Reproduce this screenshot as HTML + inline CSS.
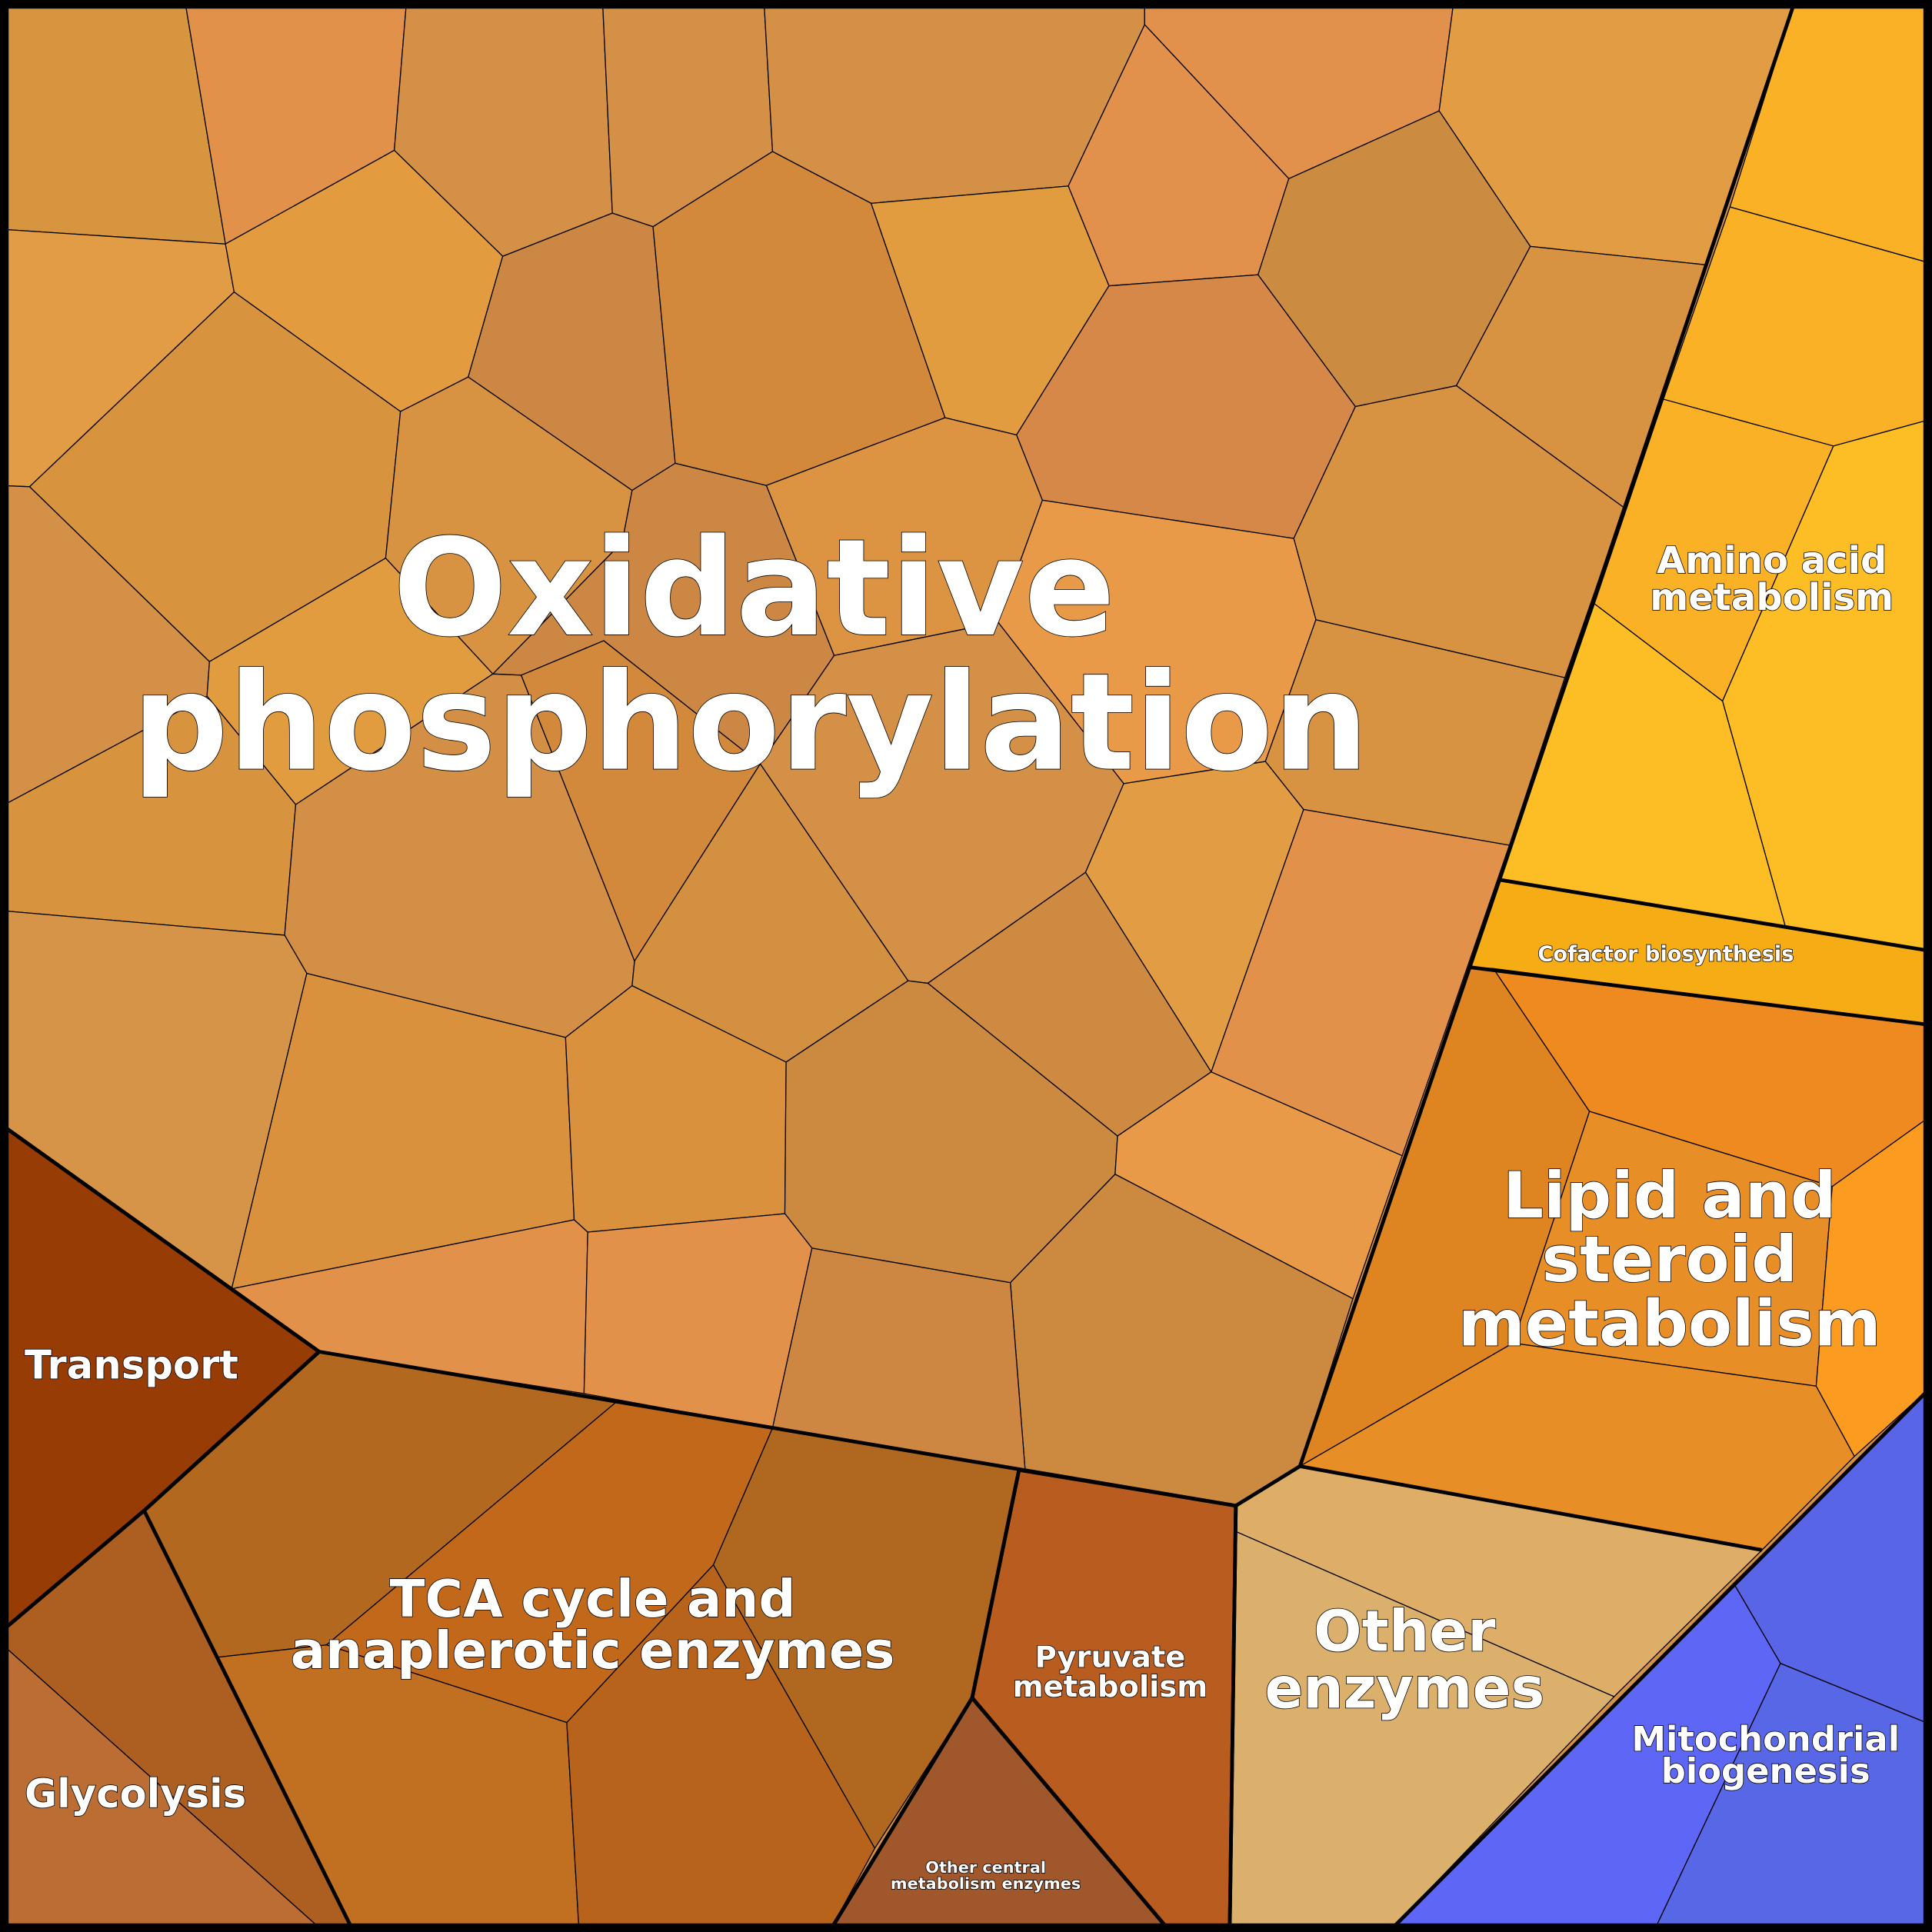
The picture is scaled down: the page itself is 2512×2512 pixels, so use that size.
<!DOCTYPE html>
<html><head><meta charset="utf-8"><style>
html,body{margin:0;padding:0;background:#000;}
svg{display:block;}
text{font-family:"DejaVu Sans","Liberation Sans",sans-serif;font-weight:bold;fill:#fff;stroke:#000;stroke-width:1;paint-order:stroke;text-anchor:middle;}
</style></head><body>
<svg width="2512" height="2512" viewBox="0 0 1568 1568" xmlns="http://www.w3.org/2000/svg">
<rect x="0" y="0" width="1568" height="1568" fill="#d39046"/>
<g stroke="#000" stroke-width="0.8" stroke-linejoin="round">
<polygon fill="#d8953f" points="0,0 150,0 183,198 0,186"/>
<polygon fill="#e2914a" points="150,0 330,0 320,122 183,198"/>
<polygon fill="#d39046" points="330,0 489,0 497,173 408,208 320,122"/>
<polygon fill="#d39046" points="489,0 620,0 627,123 530,184 497,173"/>
<polygon fill="#d39046" points="620,0 929,0 929,20 867,151 707,165 627,123"/>
<polygon fill="#e2914d" points="929,0 1180,0 1168,90 1046,145 929,20"/>
<polygon fill="#e2914d" points="929,20 1046,145 1021,223 900,232 867,151"/>
<polygon fill="#e29c44" points="1180,0 1457,0 1385,215 1242,200 1168,90"/>
<polygon fill="#cb8b40" points="1168,90 1242,200 1182,313 1100,330 1021,223 1046,145"/>
<polygon fill="#d89342" points="1242,200 1385,215 1318,412 1182,313"/>
<polygon fill="#e29c45" points="0,186 183,198 190,237 24,395 0,394"/>
<polygon fill="#e29c3f" points="183,198 320,122 408,208 380,306 325,334 190,237"/>
<polygon fill="#cd8745" points="408,208 497,173 530,184 548,376 513,398 380,306"/>
<polygon fill="#d2893b" points="530,184 627,123 707,165 767,339 622,394 548,376"/>
<polygon fill="#e29c40" points="707,165 867,151 900,232 825,353 767,339"/>
<polygon fill="#d58848" points="900,232 1021,223 1100,330 1050,437 846,406 825,353"/>
<polygon fill="#d89342" points="1100,330 1182,313 1318,412 1270,550 1068,503 1050,437"/>
<polygon fill="#d8933f" points="24,395 190,237 325,334 313,453 170,537"/>
<polygon fill="#d39046" points="0,394 24,395 170,537 168,565 0,655"/>
<polygon fill="#d89342" points="325,334 380,306 513,398 505,440 400,547 313,453"/>
<polygon fill="#cd8745" points="513,398 548,376 622,394 677,532 617,620 490,520 423,548 400,547 505,440"/>
<polygon fill="#dc9442" points="622,394 767,339 825,353 846,406 810,505 677,532"/>
<polygon fill="#e89a48" points="846,406 1050,437 1068,503 1027,618 912,636 810,505"/>
<polygon fill="#d89342" points="1068,503 1270,550 1225,686 1058,657 1027,618"/>
<polygon fill="#e29c40" points="170,537 313,453 400,547 240,653 168,565"/>
<polygon fill="#d8933f" points="0,655 168,565 240,653 231,759 0,739"/>
<polygon fill="#d38f45" points="240,653 400,547 423,548 515,780 513,800 459,842 249,790 231,759"/>
<polygon fill="#d2893b" points="423,548 490,520 617,620 515,780"/>
<polygon fill="#d39046" points="617,620 677,532 810,505 912,636 881,708 753,798 737,796"/>
<polygon fill="#d39041" points="515,780 617,620 737,796 638,862 513,800"/>
<polygon fill="#e29c43" points="912,636 1027,618 1058,657 983,870 881,708"/>
<polygon fill="#e2914b" points="1058,657 1225,686 1138,938 983,870"/>
<polygon fill="#ce8a40" points="753,798 881,708 983,870 907,922"/>
<polygon fill="#d69448" points="0,739 231,759 249,790 188,1046 0,912"/>
<polygon fill="#d9913e" points="249,790 459,842 466,990 188,1046"/>
<polygon fill="#d9913e" points="459,842 513,800 638,862 637,985 477,1000 466,990"/>
<polygon fill="#cc8a40" points="638,862 737,796 753,798 907,922 905,953 820,1041 659,1013 637,985"/>
<polygon fill="#e89a48" points="907,922 983,870 1138,938 1098,1054 905,953"/>
<polygon fill="#cc8a40" points="905,953 1098,1054 1055,1190 1003,1222 832,1193 820,1041"/>
<polygon fill="#e2914b" points="188,1046 466,990 477,1000 474,1131 259,1097"/>
<polygon fill="#e2914b" points="477,1000 637,985 659,1013 627,1159 474,1131"/>
<polygon fill="#cd8742" points="659,1013 820,1041 832,1193 627,1159"/>
<!-- amino -->
<polygon fill="#fbb125" points="1457,0 1568,0 1568,214 1404,168"/>
<polygon fill="#fbb125" points="1404,168 1568,214 1568,340 1488,362 1350,324"/>
<polygon fill="#fbb125" points="1350,324 1488,362 1398,569 1294,490"/>
<polygon fill="#fdbd25" points="1488,362 1568,340 1568,772 1449,752 1398,569"/>
<polygon fill="#fdbd25" points="1294,490 1398,569 1449,752 1217,714"/>
<polygon fill="#f6ad15" points="1217,714 1568,772 1568,832 1193,785"/>
<!-- lipid -->
<polygon fill="#de8420" points="1193,785 1212,786 1290,902 1228,1090 1055,1190"/>
<polygon fill="#ee8a20" points="1212,786 1568,832 1568,905 1487,963 1290,902"/>
<polygon fill="#e88e26" points="1290,902 1487,963 1474,1125 1228,1090"/>
<polygon fill="#fb9b20" points="1487,963 1568,905 1568,1125 1505,1182 1474,1125"/>
<polygon fill="#e88e26" points="1228,1090 1474,1125 1505,1182 1430,1258 1055,1190"/>
<!-- mito -->
<polygon fill="#5865e6" points="1407,1285 1568,1125 1568,1400 1445,1350"/>
<polygon fill="#5e67f5" points="1127,1568 1407,1285 1445,1350 1342,1568"/>
<polygon fill="#5767e6" points="1445,1350 1568,1400 1568,1568 1342,1568"/>
<!-- other enzymes -->
<polygon fill="#deae68" points="1003,1222 1055,1190 1430,1258 1310,1377 1003,1243"/>
<polygon fill="#dab06c" points="1003,1243 1310,1377 1127,1568 998,1568"/>
<!-- TCA -->
<polygon fill="#b2681f" points="259,1097 500,1138 265,1335 177,1345 117,1226"/>
<polygon fill="#c1681b" points="500,1138 627,1159 579,1270 460,1398 265,1335"/>
<polygon fill="#c07020" points="177,1345 265,1335 460,1398 470,1568 287,1568"/>
<polygon fill="#b8631c" points="460,1398 579,1270 710,1500 673,1568 470,1568"/>
<polygon fill="#b06820" points="627,1159 827,1193 789,1378 710,1500 579,1270"/>
<!-- glycolysis -->
<polygon fill="#ad5f22" points="0,1325 117,1226 287,1568 263,1568 0,1333"/>
<polygon fill="#bb6d33" points="0,1333 263,1568 0,1568"/>
</g>
<g stroke="#000" stroke-width="3" stroke-linejoin="round">
<polygon fill="#983c06" points="0,912 259,1097 117,1226 0,1325"/>
<polygon fill="#b85c1f" points="827,1193 1003,1222 998,1568 950,1568 789,1378"/>
<polygon fill="#a0572b" points="789,1378 950,1568 673,1568"/>
<g fill="none">
<polyline points="1457,0 1217,714 1055,1190 1003,1222 259,1097 0,912"/>
<polyline points="1217,714 1568,772"/>
<polyline points="1193,785 1568,832"/>
<polyline points="1055,1190 1430,1258"/>
<polyline points="1568,1125 1127,1568"/>
<polyline points="1003,1222 998,1568"/>
<polyline points="827,1193 789,1378 673,1568"/>
<polyline points="789,1378 950,1568"/>
<polyline points="259,1097 117,1226 287,1568"/>
<polyline points="117,1226 0,1325"/>
</g>
</g>
<rect x="3.5" y="3.5" width="1561" height="1561" fill="none" stroke="#000" stroke-width="7"/>
<text x="612" y="515" font-size="109">Oxidative</text>
<text x="609" y="624" font-size="109">phosphorylation</text>
<text x="1438" y="465" font-size="30">Amino acid</text>
<text x="1438" y="495" font-size="30">metabolism</text>
<text x="1352" y="780" font-size="17">Cofactor biosynthesis</text>
<text x="1355" y="988" font-size="52">Lipid and</text>
<text x="1355" y="1040" font-size="52">steroid</text>
<text x="1355" y="1092" font-size="52">metabolism</text>
<text x="1140" y="1340" font-size="46">Other</text>
<text x="1140" y="1386" font-size="46">enzymes</text>
<text x="1433" y="1421" font-size="28">Mitochondrial</text>
<text x="1433" y="1447" font-size="28">biogenesis</text>
<text x="901" y="1353" font-size="24">Pyruvate</text>
<text x="901" y="1377" font-size="24">metabolism</text>
<text x="481" y="1312" font-size="42">TCA cycle and</text>
<text x="481" y="1354" font-size="42">anaplerotic enzymes</text>
<text x="20" y="1119" font-size="32" style="text-anchor:start">Transport</text>
<text x="20" y="1467" font-size="32" style="text-anchor:start">Glycolysis</text>
<text x="800" y="1520" font-size="13" stroke-width="0.5">Other central</text>
<text x="800" y="1533" font-size="13" stroke-width="0.5">metabolism enzymes</text>
</svg>
</body></html>
